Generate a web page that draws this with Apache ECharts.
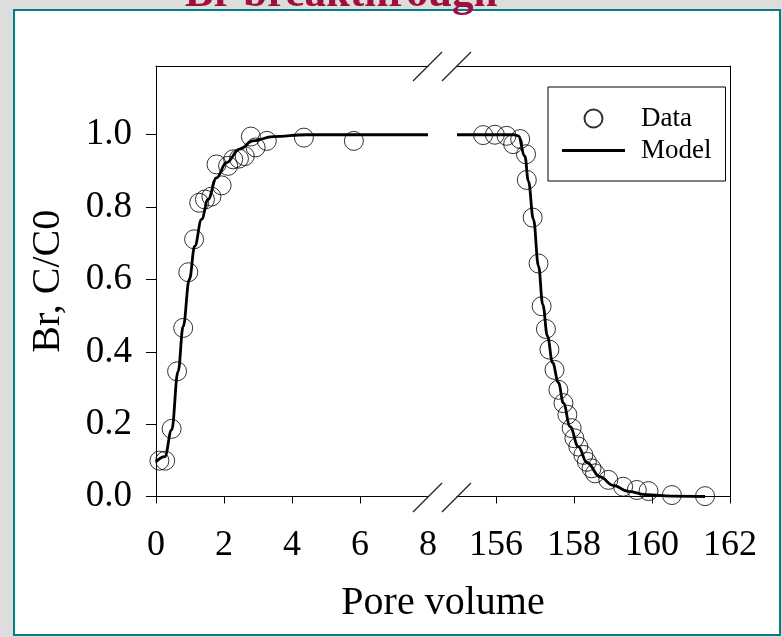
<!DOCTYPE html>
<html>
<head>
<meta charset="utf-8">
<script src="https://cdn.jsdelivr.net/npm/echarts@6/dist/echarts.min.js"></script>
<style>
  html, body { margin: 0; padding: 0; background: #dddddd; }
  #chart { width: 782px; height: 637px; }
</style>
</head>
<body>
<div id="chart"></div>
<script>
// 数据
const leftDataX = [0.10, 0.27, 0.46, 0.62, 0.80, 0.95, 1.12, 1.27, 1.44, 1.63, 1.78, 1.93, 2.12, 2.27, 2.44, 2.61, 2.79, 2.93, 3.26, 4.35, 5.82];
const leftDataY = [0.099, 0.099, 0.187, 0.346, 0.466, 0.62, 0.711, 0.812, 0.821, 0.829, 0.918, 0.86, 0.914, 0.932, 0.934, 0.941, 0.995, 0.965, 0.983, 0.992, 0.983];

const rightDataX = [155.67, 155.97, 156.27, 156.44, 156.62, 156.77, 156.79, 156.94, 157.09, 157.17, 157.28, 157.37, 157.50, 157.60, 157.73, 157.83, 157.94, 158.01, 158.11, 158.24, 158.33, 158.45, 158.54, 158.88, 159.26, 159.61, 159.91, 160.51, 161.36];
const rightDataY = [0.999, 1.0, 0.997, 0.974, 0.988, 0.946, 0.875, 0.771, 0.644, 0.526, 0.463, 0.406, 0.35, 0.295, 0.258, 0.226, 0.189, 0.161, 0.138, 0.115, 0.096, 0.078, 0.064, 0.046, 0.027, 0.018, 0.015, 0.004, 0.001];

const leftModelX = [0, 0.26, 0.46, 0.65, 0.80, 0.98, 1.14, 1.34, 1.53, 1.78, 2.07, 2.46, 2.85, 3.44, 4.42, 8];
const leftModelY = [0.096, 0.11, 0.184, 0.346, 0.47, 0.60, 0.692, 0.766, 0.821, 0.881, 0.923, 0.96, 0.983, 0.995, 1.0, 1.0];

const rightModelX = [155, 156.45, 156.57, 156.74, 156.83, 156.96, 157.09, 157.20, 157.32, 157.45, 157.60, 157.73, 157.90, 158.11, 158.33, 158.67, 159.0, 159.4, 159.86, 160.5, 161.36];
const rightModelY = [1.0, 1.0, 0.997, 0.941, 0.872, 0.766, 0.637, 0.53, 0.443, 0.37, 0.315, 0.258, 0.193, 0.138, 0.094, 0.054, 0.031, 0.014, 0.005, 0.001, 0.0];

const yTicks = [0, 0.2, 0.4, 0.6, 0.8, 1.0];
const leftXTicks = [0, 2, 4, 6];
const leftXLabels = [0, 2, 4, 6, 8];
const rightXTicks = [156, 158, 160, 162];

const zip = (xs, ys) => xs.map((x, i) => [x, ys[i]]);

const FONT = '"Liberation Serif", "Times New Roman", serif';
const black = '#000';

const myChart = echarts.init(document.getElementById('chart'));

const lineOnly = { show: true, lineStyle: { color: black, width: 1 } };

const option = {
  animation: false,
  backgroundColor: '#dddddd',
  grid: [
    { left: 156, top: 66, width: 272, bottom: 140.5 },
    { left: 457, top: 66, width: 273, bottom: 140.5 }
  ],
  xAxis: [
    {
      gridIndex: 0, type: 'value', position: 'bottom', min: 0, max: 8,
      axisLine: lineOnly,
      axisTick: { show: true, length: 7, customValues: leftXTicks, lineStyle: { color: black } },
      axisLabel: { customValues: leftXLabels, margin: 31, color: black, fontSize: 36, fontFamily: FONT },
      splitLine: { show: false }
    },
    {
      gridIndex: 0, type: 'value', position: 'top', min: 0, max: 8,
      axisLine: lineOnly, axisTick: { show: false }, axisLabel: { show: false }, splitLine: { show: false }
    },
    {
      gridIndex: 1, type: 'value', position: 'bottom', min: 155, max: 162,
      axisLine: lineOnly,
      axisTick: { show: true, length: 7, customValues: rightXTicks, lineStyle: { color: black } },
      axisLabel: { customValues: rightXTicks, margin: 31, color: black, fontSize: 36, fontFamily: FONT },
      splitLine: { show: false }
    },
    {
      gridIndex: 1, type: 'value', position: 'top', min: 155, max: 162,
      axisLine: lineOnly, axisTick: { show: false }, axisLabel: { show: false }, splitLine: { show: false }
    }
  ],
  yAxis: [
    {
      gridIndex: 0, type: 'value', position: 'left', min: 0, max: 1.19,
      name: 'Br, C/C0', nameLocation: 'middle', nameGap: 88,
      nameTextStyle: { color: black, fontSize: 40, fontFamily: FONT },
      axisLine: lineOnly,
      axisTick: { show: true, length: 10, customValues: yTicks, lineStyle: { color: black } },
      axisLabel: {
        customValues: yTicks, margin: 24, color: black, fontSize: 37, fontFamily: FONT,
        formatter: (v) => v.toFixed(1)
      },
      splitLine: { show: false }
    },
    {
      gridIndex: 1, type: 'value', position: 'right', min: 0, max: 1.19,
      axisLine: lineOnly, axisTick: { show: false }, axisLabel: { show: false }, splitLine: { show: false }
    }
  ],
  legend: {
    data: [
      { name: 'Data' },
      { name: 'Model', icon: 'path://M0,0H63V2.8H0Z' }
    ],
    orient: 'vertical',
    left: 548, top: 87,
    padding: [18, 14, 17, 14],
    itemGap: 5,
    itemWidth: 63, itemHeight: 18,
    borderColor: black, borderWidth: 1,
    backgroundColor: '#fff',
    selectedMode: false,
    textStyle: { color: black, fontSize: 27, fontFamily: FONT, padding: [0, 0, 0, 11] }
  },
  series: [
    {
      name: 'Data', type: 'scatter', xAxisIndex: 0, yAxisIndex: 0,
      symbol: 'circle', symbolSize: 19,
      itemStyle: { color: 'rgba(0,0,0,0)', borderColor: black, borderWidth: 1 },
      data: zip(leftDataX, leftDataY), z: 3
    },
    {
      name: 'Model', type: 'line', xAxisIndex: 0, yAxisIndex: 0,
      symbol: 'none', smooth: 0.4, smoothMonotone: 'x',
      lineStyle: { color: black, width: 2.8 },
      itemStyle: { color: black },
      data: zip(leftModelX, leftModelY), z: 2
    },
    {
      name: 'Data', type: 'scatter', xAxisIndex: 2, yAxisIndex: 1,
      symbol: 'circle', symbolSize: 19,
      itemStyle: { color: 'rgba(0,0,0,0)', borderColor: black, borderWidth: 1 },
      data: zip(rightDataX, rightDataY), z: 3
    },
    {
      name: 'Model', type: 'line', xAxisIndex: 2, yAxisIndex: 1,
      symbol: 'none', smooth: 0.4, smoothMonotone: 'x',
      lineStyle: { color: black, width: 2.8 },
      itemStyle: { color: black },
      data: zip(rightModelX, rightModelY), z: 2
    }
  ],
  graphic: [
    // 外框
    {
      type: 'rect', z: -10, silent: true,
      shape: { x: 14, y: 10, width: 766, height: 625 },
      style: { fill: '#fff', stroke: '#008080', lineWidth: 2 }
    },
    // 标题 (上半部分被裁掉)
    {
      type: 'text', z: 100, silent: true, x: 341, y: -5,
      style: {
        text: 'Br breakthrough', fill: '#a00f3c',
        font: 'bold 43px ' + FONT, textAlign: 'center', textVerticalAlign: 'middle'
      }
    },
    // X 轴标题
    {
      type: 'text', z: 100, silent: true, x: 443, y: 603,
      style: {
        text: 'Pore volume', fill: black,
        font: '40px ' + FONT, textAlign: 'center', textVerticalAlign: 'middle'
      }
    },
    // 断轴标记
    { type: 'line', z: 100, silent: true, shape: { x1: 413, y1: 81, x2: 442, y2: 52 }, style: { stroke: '#222', lineWidth: 1.2 } },
    { type: 'line', z: 100, silent: true, shape: { x1: 442, y1: 81, x2: 471, y2: 52 }, style: { stroke: '#222', lineWidth: 1.2 } },
    { type: 'line', z: 100, silent: true, shape: { x1: 413, y1: 512, x2: 442, y2: 483 }, style: { stroke: '#222', lineWidth: 1.2 } },
    { type: 'line', z: 100, silent: true, shape: { x1: 442, y1: 512, x2: 471, y2: 483 }, style: { stroke: '#222', lineWidth: 1.2 } }
  ]
};

myChart.setOption(option);
window.addEventListener('resize', () => myChart.resize());
</script>
</body>
</html>
